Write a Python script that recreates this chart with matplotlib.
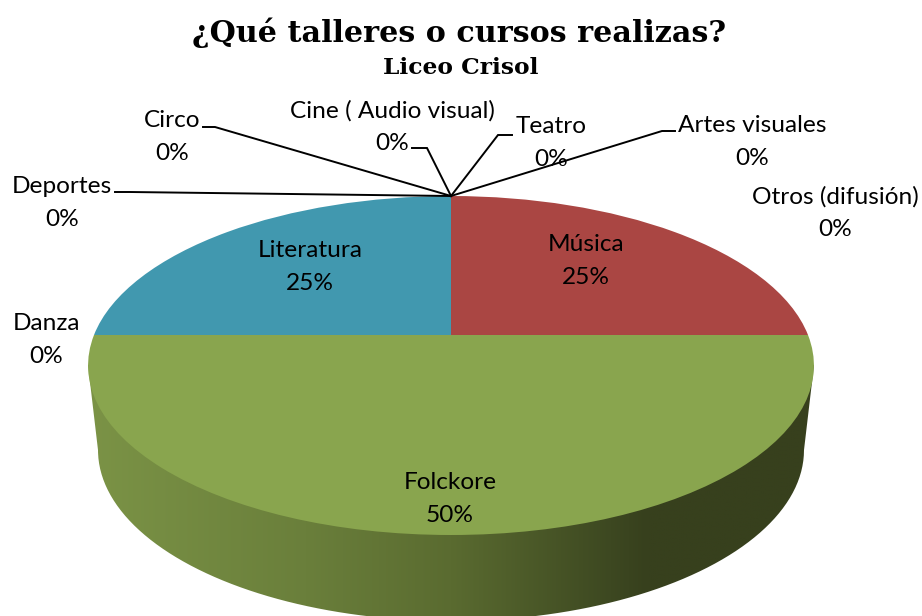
import numpy as np
from matplotlib import pyplot as plt
from matplotlib.colors import LinearSegmentedColormap
from matplotlib.patches import PathPatch
from matplotlib.path import Path
from matplotlib.transforms import Transform

labels = ['Música', 'Folckore', 'Literatura', 'Danza', 'Deportes', 'Circo',
          'Cine ( Audio visual)', 'Teatro', 'Artes visuales', 'Otros (difusión)']
values = [25, 50, 25, 0, 0, 0, 0, 0, 0, 0]
colors = ['#AA4643', '#89A54E', '#4198AF', '#71588F', '#DB843D',
          '#93A9CF', '#D19392', '#B9CD96', '#A99BBD', '#91C3D5']

# where the labels sit, in picture pixels
label_x = [586, 450, 310, 46, 62, 172, 392, 551, 752, 835]
label_y = [261, 499, 267, 340, 203, 137, 127, 143, 142, 213]

# leader lines, all end on the tip of the pie
tip = (451, 196)
leaders = [[(115, 192), (130, 192)],
           [(203, 127), (215, 127)],
           [(412, 148), (427, 148)],
           [(512, 135), (498, 135)],
           [(675, 131), (662, 131)]]


class Perspective(Transform):
    # tilted view of the unit circle, the centre of the pie is not the centre of the ellipse
    input_dims = 2
    output_dims = 2

    def transform_non_affine(self, values):
        x, y = np.asarray(values).T
        d = 1 + 0.18 * y
        return np.column_stack([451 + 357 * x / d, 335 - 164 * y / d])


fig = plt.figure(figsize=(9.22, 6.16), dpi=100)
ax = fig.add_axes([0, 0, 1, 1])

wedges, _ = ax.pie(values, colors=colors, startangle=90, counterclock=False)
for w in wedges:
    w.set_transform(Perspective() + ax.transData)
    w.set_linewidth(0)
    w.set_zorder(2)

# side of the cylinder
t = np.linspace(0, np.pi, 200)
side = [(814, 365)] + list(zip(451 + 353 * np.cos(t), 450 + 171 * np.sin(t))) + [(88, 365)]
side_path = Path(side + [side[0]])
shade = LinearSegmentedColormap.from_list('shade', [(0, '#7B9346'), (0.3, '#6A7F3B'), (0.5, '#5A6B30'),
                                                    (0.72, '#3D4821'), (0.77, '#37401D'), (1, '#37401D')])
im = ax.imshow(np.linspace(0, 1, 256)[None, :], cmap=shade, extent=(88, 814, 622, 365),
               aspect='auto', interpolation='bilinear', zorder=1)
im.set_clip_path(PathPatch(side_path, transform=ax.transData))

for pts in leaders:
    xs, ys = zip(*(pts + [tip]))
    ax.plot(xs, ys, color='black', lw=1.4, zorder=3, solid_joinstyle='miter')

total = sum(values)
for name, v, x, y in zip(labels, values, label_x, label_y):
    ax.text(x, y, f'{name}\n{v / total:.0%}', ha='center', va='center', family='Lato',
            fontsize=17.6, linespacing=1.66, color='black', zorder=4)

ax.text(459, 33, '¿Qué talleres o cursos realizas?', ha='center', va='center',
        family='DejaVu Serif', weight='bold', fontsize=21.7)
ax.text(461, 68, 'Liceo Crisol', ha='center', va='center',
        family='DejaVu Serif', weight='bold', fontsize=16.8)

ax.set_xlim(0, 922)
ax.set_ylim(616, 0)
ax.set_aspect('auto')
ax.axis('off')

plt.savefig('out.png', dpi=100)
